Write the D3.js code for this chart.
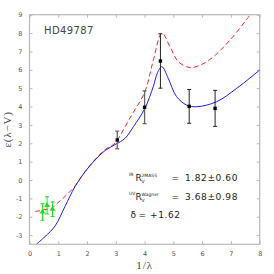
<!DOCTYPE html>
<html>
<head>
<meta charset="utf-8">
<script src="https://cdn.jsdelivr.net/npm/d3@7"></script>
<style>
  body { margin: 0; background: #fff; }
  svg text { font-family: "DejaVu Sans", sans-serif; }
</style>
</head>
<body>
<div id="chart"></div>
<script>
// model curves
var blueX = [0.25, 0.54, 0.89, 1.23, 1.58, 1.93, 2.28, 2.62, 3.0, 3.32, 3.61, 4.01, 4.3, 4.45, 4.6, 4.82, 5.11, 5.46, 5.81, 6.5, 7.2, 8.0];
var blueY = [-3.48, -3.08, -2.5, -1.45, -0.36, 0.45, 1.09, 1.6, 1.95, 2.27, 2.9, 3.9, 5.08, 5.85, 6.17, 5.54, 4.54, 4.08, 3.99, 4.26, 4.99, 5.99];
var redX = [0.19, 0.5, 0.77, 0.94, 1.23, 1.58, 1.93, 2.28, 2.62, 2.97, 3.14, 3.5, 4.01, 4.3, 4.6, 4.88, 5.17, 5.46, 5.64, 6.0, 6.39, 6.97, 7.66];
var redY = [-1.72, -1.62, -1.54, -1.3, -0.9, -0.33, 0.45, 1.12, 1.65, 2.0, 2.4, 3.4, 4.81, 6.5, 8.0, 7.26, 6.44, 6.17, 6.12, 6.3, 6.71, 7.62, 8.98];

// observed points
var uvX = [3.05, 4.0, 4.55, 5.55, 6.45];
var uvY = [2.18, 3.96, 6.48, 4.01, 3.9];
var uvErr = [0.48, 0.89, 1.48, 0.92, 0.98];
var irX = [0.45, 0.61, 0.8];
var irY = [-1.74, -1.38, -1.59];
var irErr = [0.45, 0.47, 0.4];

var xTicks = [0, 1, 2, 3, 4, 5, 6, 7, 8];
var yTicks = [-3, -2, -1, 0, 1, 2, 3, 4, 5, 6, 7, 8, 9];

var svgWidth = 274, svgHeight = 274;
var margin = {top: 14.7, right: 14.3, bottom: 29.7, left: 29.5};
var width = svgWidth - margin.left - margin.right;
var height = svgHeight - margin.top - margin.bottom;

var svg = d3.select("#chart").append("svg")
  .attr("width", svgWidth)
  .attr("height", svgHeight);
var g = svg.append("g")
  .attr("transform", `translate(${margin.left}, ${margin.top})`);

var x = d3.scaleLinear().domain([0, 8]).range([0, width]);
var y = d3.scaleLinear().domain([-3.5, 9]).range([height, 0]);

// frame and ticks (inward)
var frameColor = "#b8b8b8";
function styleAxis(sel, labels) {
  sel.select(".domain").remove();
  sel.selectAll(".tick line").attr("stroke", frameColor).attr("stroke-width", 1);
  if (!labels) sel.selectAll(".tick text").remove();
  else sel.selectAll(".tick text").attr("fill", "#555").style("font-size", "6.5px");
}
g.append("g").attr("transform", `translate(0, ${height})`)
  .call(d3.axisBottom(x).tickValues(xTicks).tickSize(-3).tickPadding(7).tickFormat(d => String(d)))
  .call(s => styleAxis(s, true));
g.append("g")
  .call(d3.axisTop(x).tickValues(xTicks).tickSize(-3).tickFormat(""))
  .call(s => styleAxis(s, false));
g.append("g")
  .call(d3.axisLeft(y).tickValues(yTicks).tickSize(-3).tickPadding(7).tickFormat(d => String(d)))
  .call(s => styleAxis(s, true));
g.append("g").attr("transform", `translate(${width}, 0)`)
  .call(d3.axisRight(y).tickValues(yTicks).tickSize(-3).tickFormat(""))
  .call(s => styleAxis(s, false));
g.append("rect")
  .attr("width", width).attr("height", height)
  .attr("fill", "none").attr("stroke", frameColor).attr("stroke-width", 1.2);

// curves
var clip = g.append("clipPath").attr("id", "clip").append("rect")
  .attr("width", width).attr("height", height);
var line = d3.line().x(d => x(d[0])).y(d => y(d[1])).curve(d3.curveCatmullRom.alpha(0.5));
g.append("path")
  .datum(d3.zip(redX, redY))
  .attr("d", line)
  .attr("clip-path", "url(#clip)")
  .attr("fill", "none").attr("stroke", "#ff2020").attr("stroke-width", 1)
  .attr("stroke-dasharray", "5,3");
g.append("path")
  .datum(d3.zip(blueX, blueY))
  .attr("d", line)
  .attr("clip-path", "url(#clip)")
  .attr("fill", "none").attr("stroke", "#1a1aff").attr("stroke-width", 1);

// error bars
function errBars(xs, ys, es, color, w) {
  var data = d3.zip(xs, ys, es);
  var eg = g.append("g").attr("stroke", color).attr("stroke-width", w);
  eg.selectAll(".v").data(data).enter().append("line")
    .attr("x1", d => x(d[0])).attr("x2", d => x(d[0]))
    .attr("y1", d => y(d[1] - d[2])).attr("y2", d => y(d[1] + d[2]));
  eg.selectAll(".t").data(data).enter().append("line")
    .attr("x1", d => x(d[0]) - 2).attr("x2", d => x(d[0]) + 2)
    .attr("y1", d => y(d[1] + d[2])).attr("y2", d => y(d[1] + d[2]));
  eg.selectAll(".b").data(data).enter().append("line")
    .attr("x1", d => x(d[0]) - 2).attr("x2", d => x(d[0]) + 2)
    .attr("y1", d => y(d[1] - d[2])).attr("y2", d => y(d[1] - d[2]));
}
errBars(uvX.slice(0, 2), uvY.slice(0, 2), uvErr.slice(0, 2), "#666", 1.3);
errBars(uvX.slice(2), uvY.slice(2), uvErr.slice(2), "#222", 1);
errBars(irX, irY, irErr, "#22dd22", 1);

g.selectAll(".uv").data(d3.zip(uvX, uvY)).enter().append("rect")
  .attr("x", d => x(d[0]) - 1.7).attr("y", d => y(d[1]) - 1.7)
  .attr("width", 3.4).attr("height", 3.4).attr("fill", "#000");
g.selectAll(".ir").data(d3.zip(irX, irY)).enter().append("path")
  .attr("transform", d => `translate(${x(d[0])}, ${y(d[1])})`)
  .attr("d", d3.symbol().type(d3.symbolTriangle).size(14))
  .attr("fill", "#22dd22");

// labels
svg.append("text").attr("x", 44).attr("y", 34)
  .style("font-size", "10px").style("letter-spacing", "0.4px").attr("fill", "#444")
  .text("HD49787");

svg.append("text")
  .attr("transform", `translate(11, ${margin.top + height / 2}) rotate(-90)`)
  .attr("text-anchor", "middle")
  .style("font-family", "'Liberation Serif', serif").style("font-size", "11px")
  .style("letter-spacing", "0.8px").attr("fill", "#444")
  .text("ε(λ−V)");
svg.append("text")
  .attr("x", margin.left + width / 2).attr("y", 269)
  .attr("text-anchor", "middle")
  .style("font-family", "'Liberation Serif', serif").style("font-size", "11px")
  .style("letter-spacing", "1px").attr("fill", "#444")
  .text("1/λ");

function rLine(base, pre, sup, value) {
  var c = "#222";
  svg.append("text").attr("x", 129).attr("y", base - 5).style("font-size", "4.5px").attr("fill", c).text(pre);
  svg.append("text").attr("x", 135.5).attr("y", base).style("font-size", "9px").attr("fill", c).text("R");
  svg.append("text").attr("x", 141.5).attr("y", base - 4.5).style("font-size", "4.5px").attr("fill", c).text(sup);
  svg.append("text").attr("x", 141.5).attr("y", base + 1.5).style("font-size", "4.5px").attr("fill", c).text("V");
  svg.append("text").attr("x", 171.5).attr("y", base).style("font-size", "9px").attr("fill", c).text("=");
  svg.append("text").attr("x", 185).attr("y", base).style("font-size", "9px")
    .style("letter-spacing", "0.6px").attr("fill", c).text(value);
}
rLine(181, "IR", "2MASS", "1.82±0.60");
rLine(200, "UV", "Wagner", "3.68±0.98");
svg.append("text").attr("x", 130.5).attr("y", 218).style("font-size", "9px").attr("fill", "#222").text("δ");
svg.append("text").attr("x", 138.5).attr("y", 218).style("font-size", "9px").attr("fill", "#222").text("=");
svg.append("text").attr("x", 150).attr("y", 218).style("font-size", "9px")
  .style("letter-spacing", "0.6px").attr("fill", "#222").text("+1.62");
</script>
</body>
</html>
